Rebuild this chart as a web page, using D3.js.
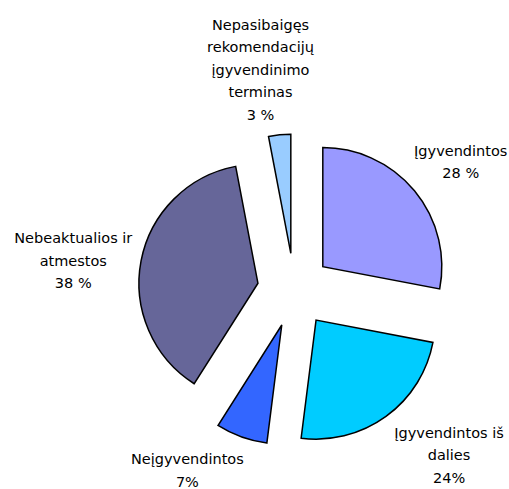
<!DOCTYPE html>
<html>
<head>
<meta charset="utf-8">
<script src="https://cdn.jsdelivr.net/npm/d3@7"></script>
<style>
  body { margin: 0; background: #fff; }
  text { font-family: "DejaVu Sans", Verdana, sans-serif; font-size: 14.5px; fill: #000; }
</style>
</head>
<body>
<div id="chart"></div>
<script>
// slice names (line breaks as in the chart), values in % and the printed percent labels
const categories = ["Įgyvendintos", "Įgyvendintos iš\ndalies", "Neįgyvendintos",
                    "Nebeaktualios ir\natmestos", "Nepasibaigęs\nrekomendacijų\nįgyvendinimo\nterminas"];
const values = [28, 24, 7, 38, 3];
const pctLabels = ["28 %", "24%", "7%", "38 %", "3 %"];

// styling
const colors = ["#9999ff", "#00ccff", "#3366ff", "#666699", "#99ccff"];
const labelNudge = [[37, -21], [56, 29], [-50, 22], [-56, 2], [-18, -53]];

const W = 509, H = 489;
const cx = 294.3, cy = 290.2, r = 119, explode = 37, lineH = 22.5;

const data = categories.map(function(c, i) {
    return {name: c, value: values[i], pct: pctLabels[i], i: i};
});

const svg = d3.select("#chart").append("svg")
    .attr("width", W).attr("height", H);

const g = svg.append("g").attr("transform", "translate(" + cx + "," + cy + ")");

const pie = d3.pie().sort(null).value(function(d) { return d.value; });
const arc = d3.arc().innerRadius(0).outerRadius(r);

const arcs = pie(data);

// unit vector through the middle of a slice (0 = up, clockwise)
function dir(d) {
    const a = (d.startAngle + d.endAngle) / 2;
    return [Math.sin(a), -Math.cos(a)];
}

const slices = g.selectAll(".slice").data(arcs).enter()
    .append("g").attr("class", "slice")
    .attr("transform", function(d) {
        const u = dir(d);
        return "translate(" + (u[0] * explode) + "," + (u[1] * explode) + ")";
    });

slices.append("path")
    .attr("d", arc)
    .attr("fill", function(d) { return colors[d.data.i]; })
    .attr("stroke", "#000")
    .attr("stroke-width", 1.5);

// labels: just outside the exploded slice, then nudged to where Excel put them
g.selectAll(".lbl").data(arcs).enter()
    .append("text").attr("class", "lbl")
    .attr("text-anchor", "middle")
    .each(function(d) {
        const u = dir(d), k = explode + r + 12;
        const n = labelNudge[d.data.i];
        const x = u[0] * k + n[0], y = u[1] * k + n[1];
        const lines = d.data.name.split("\n").concat([d.data.pct]);
        const y0 = y - (lines.length - 1) * lineH / 2 + 5;
        const t = d3.select(this);
        lines.forEach(function(l, j) {
            t.append("tspan").attr("x", x).attr("y", y0 + j * lineH).text(l);
        });
    });
</script>
</body>
</html>
